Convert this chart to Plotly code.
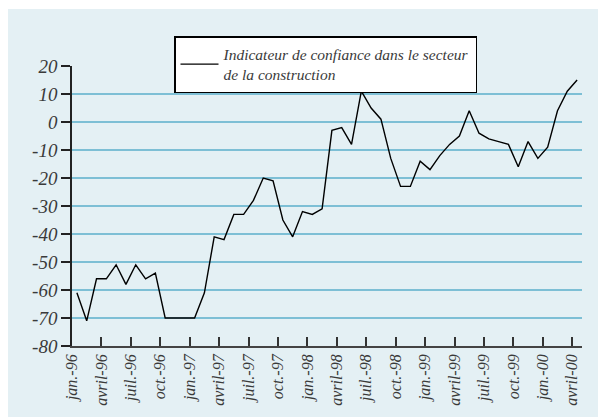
import plotly.graph_objects as go

months = ["jan.-96","févr.-96","mars-96","avril-96","mai-96","juin-96","juil.-96","août-96","sept.-96","oct.-96","nov.-96","déc.-96",
          "jan.-97","févr.-97","mars-97","avril-97","mai-97","juin-97","juil.-97","août-97","sept.-97","oct.-97","nov.-97","déc.-97",
          "jan.-98","févr.-98","mars-98","avril-98","mai-98","juin-98","juil.-98","août-98","sept.-98","oct.-98","nov.-98","déc.-98",
          "jan.-99","févr.-99","mars-99","avril-99","mai-99","juin-99","juil.-99","août-99","sept.-99","oct.-99","nov.-99","déc.-99",
          "jan.-00","févr.-00","mars-00","avril-00"]
values = [-61, -71, -56, -56, -51, -58, -51, -56, -54, -70, -70, -70,
          -70, -61, -41, -42, -33, -33, -28, -20, -21, -35, -41, -32,
          -33, -31, -3, -2, -8, 11, 5, 1, -13, -23, -23, -14,
          -17, -12, -8, -5, 4, -4, -6, -7, -8, -16, -7, -13,
          -9, 4, 11, 15]
tick_labels = ["jan.-96","avril-96","juil.-96","oct.-96","jan.-97","avril-97","juil.-97","oct.-97",
               "jan.-98","avril-98","juil.-98","oct.-98","jan.-99","avril-99","juil.-99","oct.-99",
               "jan.-00","avril-00"]
y_ticks = [20, 10, 0, -10, -20, -30, -40, -50, -60, -70, -80]
series_name = "Indicateur de confiance dans le secteur<br>de la construction"

x = list(range(len(values)))
x_tickvals = [i * 3 - 0.5 for i in range(len(tick_labels))]

# the page body has an 8px margin, so figure coords = page coords - 8
OFF = 8
W, H = 606 - OFF, 417 - OFF
L, T = 72 - OFF, 66 - OFF
pw, ph = 510, 280
R, B = W - L - pw, H - T - ph

FONT = "Liberation Serif"
txt_color = "#3a3a3a"

def it(s):
    return "<i>" + s.replace("<br>", "</i><br><i>") + "</i>"

fig = go.Figure()
fig.add_trace(go.Scatter(x=x, y=values, mode="lines", name=it(series_name),
                         line=dict(color="black", width=1.4)))

fig.update_layout(
    width=W, height=H,
    margin=dict(l=L, r=R, t=T, b=B, autoexpand=False),
    paper_bgcolor="white",
    plot_bgcolor="rgba(0,0,0,0)",
    font=dict(family=FONT, color=txt_color),
    showlegend=True,
    legend=dict(
        x=(174 - OFF - L) / pw, y=(T + ph - (36 - OFF)) / ph, xanchor="left", yanchor="top",
        bgcolor="white", bordercolor="black", borderwidth=1.5,
        font=dict(family=FONT, size=15.5, color=txt_color),
        tracegroupgap=0, itemwidth=38,
    ),
    xaxis=dict(
        range=[-0.5, len(values) - 0.5], automargin=False,
        tickmode="array", tickvals=x_tickvals, ticktext=[it(t) for t in tick_labels],
        tickangle=-90, ticks="inside", ticklen=9, tickwidth=1.5, tickcolor="#333",
        showgrid=False, zeroline=False,
        showline=True, linecolor="#444", linewidth=1.8,
        tickfont=dict(family=FONT, size=16, color=txt_color),
    ),
    yaxis=dict(
        range=[-80, 20], automargin=False,
        tickmode="array", tickvals=y_ticks, ticktext=[it(str(v)) for v in y_ticks],
        ticks="outside", ticklen=9, tickwidth=1.5, tickcolor="#222",
        showgrid=True, gridcolor="#7dbfd5", gridwidth=1.5,
        zeroline=False,
        showline=True, linecolor="#222", linewidth=1.5,
        tickfont=dict(family=FONT, size=19, color=txt_color),
    ),
    shapes=[dict(type="rect", xref="paper", yref="paper", layer="below",
                 x0=(-1 - L) / pw, x1=(W + 2 - L) / pw,
                 y0=-(B + 2) / ph, y1=(T + ph - 1) / ph,
                 fillcolor="#e4f0f4", line=dict(width=0))],
)

fig.write_html("out.html")
